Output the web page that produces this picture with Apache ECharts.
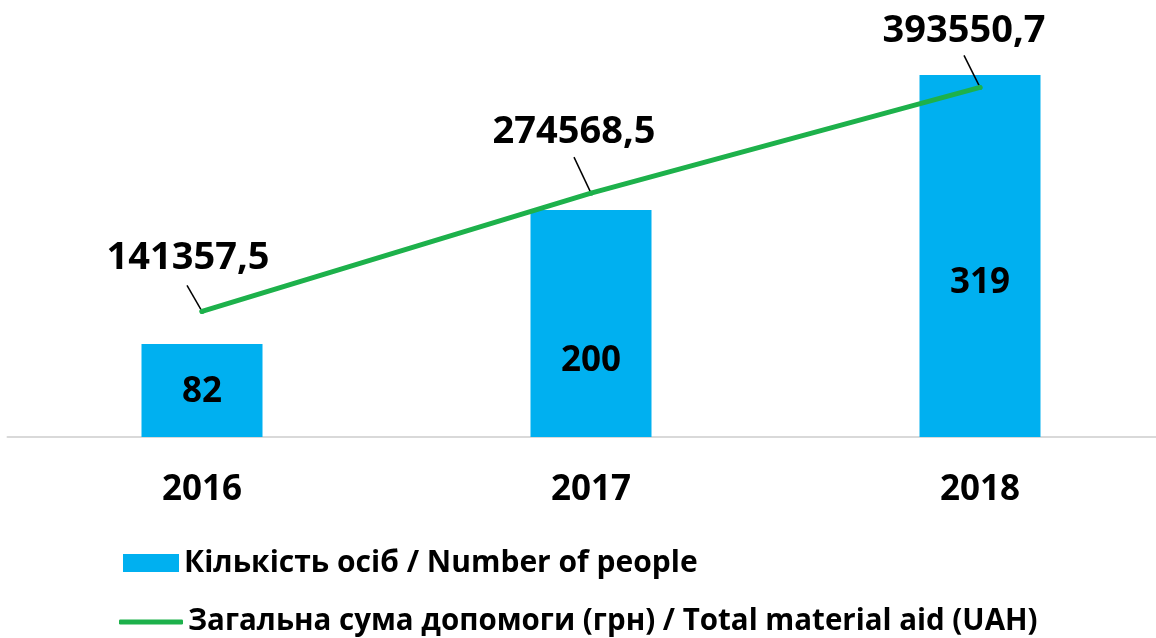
<!DOCTYPE html>
<html>
<head>
<meta charset="utf-8">
<script src="https://cdn.jsdelivr.net/npm/echarts@6/dist/echarts.min.js"></script>
<style>
html,body{margin:0;padding:0;background:#fff;}
#main{width:1156px;height:638px;}
</style>
</head>
<body>
<div id="main"></div>
<script>
var categories = ['2016', '2017', '2018'];
var peopleValues = [82, 200, 319];
var aidValues = [141357.5, 274568.5, 393550.7];
var peopleName = 'Кількість осіб / Number of people';
var aidName = 'Загальна сума допомоги (грн) / Total material aid (UAH)';

// styling: label offsets (pixels)
var barLabelOffsets = [[0, 2], [0, 38], [0, 27]];
var aidLabelOffsets = [[-14, -53], [-17, -61], [-16, -56]];
var leaderVectors = [[-15, -26], [-17, -36], [-16, -32]];

var FONT = '"Open Sans", "Noto Sans", sans-serif';

function fmt(v) { return String(v).replace('.', ','); }

var legendText = { fontFamily: FONT, fontWeight: 'bold', fontSize: 30, color: '#000' };

var chart = echarts.init(document.getElementById('main'));
chart.setOption({
  animation: false,
  backgroundColor: '#ffffff',
  grid: { left: 7.5, width: 1167, top: 0, bottom: 201, containLabel: false, outerBoundsMode: 'none' },
  legend: [
    {
      orient: 'horizontal', left: 118, top: 543,
      itemWidth: 56, itemHeight: 18, itemGap: 10,
      textStyle: legendText,
      data: [{ name: peopleName, icon: 'rect' }]
    },
    {
      orient: 'horizontal', left: 114, top: 602,
      itemWidth: 64, itemHeight: 5, itemGap: 10,
      textStyle: { fontFamily: FONT, fontWeight: 'bold', fontSize: 29.5, color: '#000' },
      data: [{ name: aidName, icon: 'roundRect' }]
    }
  ],
  xAxis: {
    type: 'category',
    data: categories,
    axisLine: { show: true, lineStyle: { color: '#d9d9d9', width: 2 } },
    axisTick: { show: false },
    axisLabel: { margin: 36, fontFamily: FONT, fontWeight: 'bold', fontSize: 35, color: '#000' }
  },
  yAxis: [
    { type: 'value', min: 0, max: 385, show: false, splitLine: { show: false } },
    { type: 'value', min: 0, max: 492000, show: false, splitLine: { show: false } }
  ],
  series: [
    {
      name: peopleName,
      type: 'bar',
      barWidth: 121,
      itemStyle: { color: '#00b0f0' },
      data: peopleValues.map(function (v, i) {
        return { value: v, label: { offset: barLabelOffsets[i] } };
      }),
      label: {
        show: true, position: 'inside',
        fontFamily: FONT, fontWeight: 'bold', fontSize: 35, color: '#000'
      },
      z: 1
    },
    {
      name: 'leaders',
      type: 'custom',
      yAxisIndex: 1,
      data: aidValues.map(function (v, i) { return [i, v]; }),
      renderItem: function (params, api) {
        var p = api.coord([api.value(0), api.value(1)]);
        var o = leaderVectors[params.dataIndex];
        return {
          type: 'line',
          shape: { x1: p[0], y1: p[1], x2: p[0] + o[0], y2: p[1] + o[1] },
          style: { stroke: '#000', lineWidth: 1.5 }
        };
      },
      silent: true,
      z: 2
    },
    {
      name: aidName,
      type: 'line',
      yAxisIndex: 1,
      data: aidValues.map(function (v, i) {
        return { value: v, label: { offset: aidLabelOffsets[i] } };
      }),
      symbol: 'circle',
      symbolSize: 5,
      itemStyle: { color: '#1db14b' },
      lineStyle: { color: '#1db14b', width: 5, cap: 'round' },
      label: {
        show: true, position: 'inside',
        formatter: function (p) { return fmt(p.value); },
        fontFamily: FONT, fontWeight: 'bold', fontSize: 38, color: '#000'
      },
      z: 3
    }
  ]
});
</script>
</body>
</html>
